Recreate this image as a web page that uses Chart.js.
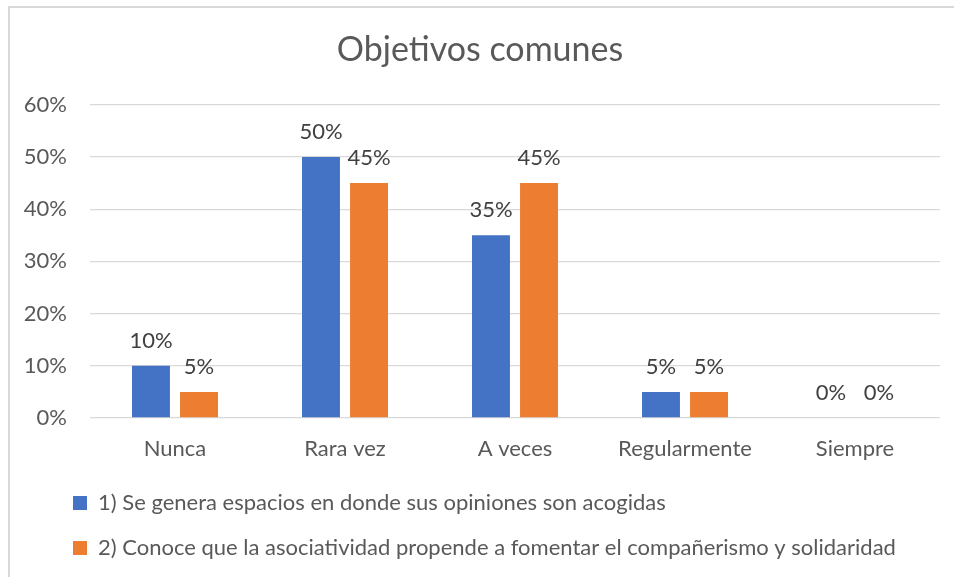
<!DOCTYPE html>
<html>
<head>
<meta charset="utf-8">
<script src="https://cdn.jsdelivr.net/npm/chart.js@4.4.1/dist/chart.umd.min.js"></script>
<style>
  html, body { margin: 0; padding: 0; background: #fff; overflow: hidden; }
  #marco { position: absolute; left: 8px; top: 6px; width: 1000px; height: 700px;
           border-left: 2px solid #d9d9d9; border-top: 2px solid #d9d9d9; }
  #contenedor { position: absolute; left: 0; top: 0; width: 954px; height: 577px; }
</style>
</head>
<body>
<div id="marco"></div>
<div id="contenedor"><canvas id="grafico" width="954" height="577"></canvas></div>
<script>
// Datos
const categorias = ['Nunca', 'Rara vez', 'A veces', 'Regularmente', 'Siempre'];
const serie1 = [10, 50, 35, 5, 0];
const serie2 = [5, 45, 45, 5, 0];
const nombreSerie1 = '1) Se genera espacios en donde sus opiniones son acogidas';
const nombreSerie2 = '2) Conoce que la asociatividad propende a fomentar el compañerismo y solidaridad';
const tituloGrafico = 'Objetivos comunes';

const FUENTE = 'Lato, "Open Sans", sans-serif';
const GRIS_TEXTO = '#595959';

// etiquetas de valor encima de cada barra
const etiquetasPlugin = {
  id: 'etiquetas',
  afterDatasetsDraw(chart) {
    const ctx = chart.ctx;
    ctx.save();
    ctx.font = '22px ' + FUENTE;
    ctx.fillStyle = '#404040';
    ctx.textAlign = 'center';
    ctx.textBaseline = 'alphabetic';
    chart.data.datasets.forEach((ds, i) => {
      chart.getDatasetMeta(i).data.forEach((barra, j) => {
        ctx.fillText(ds.data[j] + '%', barra.x, barra.y - 18);
      });
    });
    ctx.restore();
  }
};

// mueve la leyenda a la derecha (en el original empieza bajo el eje)
const leyendaPlugin = {
  id: 'moverLeyenda',
  afterLayout(chart) {
    if (chart.legend) {
      chart.legend.left += 30;
      chart.legend.right += 30;
    }
  }
};

const ctx = document.getElementById('grafico').getContext('2d');
new Chart(ctx, {
  type: 'bar',
  data: {
    labels: categorias,
    datasets: [
      { label: nombreSerie1, data: serie1, backgroundColor: '#4472C4',
        categoryPercentage: 0.565, barPercentage: 0.79 },
      { label: nombreSerie2, data: serie2, backgroundColor: '#ED7D31',
        categoryPercentage: 0.565, barPercentage: 0.79 }
    ]
  },
  options: {
    responsive: false,
    animation: false,
    layout: { padding: { left: 20, right: 14, top: 0, bottom: 8 } },
    plugins: {
      title: {
        display: true,
        text: tituloGrafico,
        color: GRIS_TEXTO,
        font: { family: FUENTE, size: 34, weight: 'normal' },
        padding: { top: 30, bottom: 34 }
      },
      legend: {
        display: true,
        position: 'bottom',
        align: 'start',
        labels: {
          color: GRIS_TEXTO,
          font: { family: FUENTE, size: 22 },
          boxWidth: 14,
          boxHeight: 14,
          padding: 23
        }
      },
      tooltip: { enabled: false }
    },
    scales: {
      x: {
        grid: { display: false, drawTicks: false },
        border: { display: false },
        ticks: { color: GRIS_TEXTO, font: { family: FUENTE, size: 22 }, padding: 18 },
        afterFit(scale) { scale.height = 51; }
      },
      y: {
        min: 0,
        max: 60,
        grid: { color: '#d9d9d9', lineWidth: 1.3, drawTicks: false },
        border: { display: false },
        ticks: {
          stepSize: 10,
          color: GRIS_TEXTO,
          font: { family: FUENTE, size: 22 },
          padding: 23,
          callback: v => v + '%'
        },
        afterFit(scale) { scale.width = 70; }
      }
    }
  },
  plugins: [etiquetasPlugin, leyendaPlugin]
});
</script>
</body>
</html>
